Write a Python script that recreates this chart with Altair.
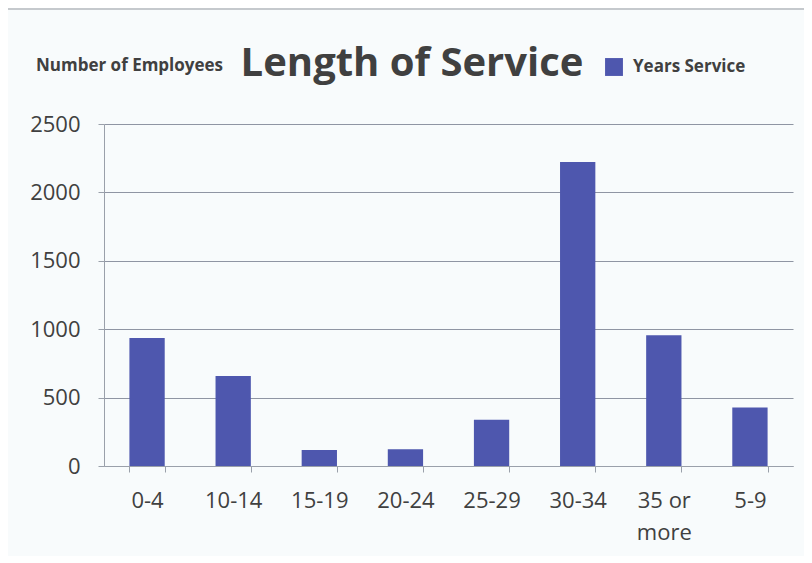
import altair as alt
import pandas as pd

categories = ["0-4", "10-14", "15-19", "20-24", "25-29", "30-34", "35 or more", "5-9"]
employees = [935, 658, 117, 122, 338, 2222, 955, 428]
series_name = "Years Service"
y_ticks = [0, 500, 1000, 1500, 2000, 2500]

df = pd.DataFrame({"category": categories, "employees": employees, "series": series_name})

FONT = "Open Sans"
TXT = "#404040"
BAR = "#4E57AE"

bars = alt.Chart(df).mark_bar(color=BAR).encode(
    x=alt.X("category:N", sort=categories, title=None,
            scale=alt.Scale(paddingInner=0.59, paddingOuter=0.295),
            axis=alt.Axis(labelAngle=0, labelFontSize=22, labelColor=TXT, labelFont=FONT,
                          labelPadding=18, tickBand="extent", tickSize=6, tickColor="#9AA0AA",
                          domainColor="#9AA0AA", labelLineHeight=32,
                          labelExpr="datum.label == '35 or more' ? ['35 or', 'more'] : datum.label")),
    y=alt.Y("employees:Q", title=None,
            scale=alt.Scale(domain=[0, 2500], nice=False),
            axis=alt.Axis(values=y_ticks, format="d", labelFontSize=22, labelColor=TXT, labelFont=FONT,
                          labelPadding=18, tickSize=6, tickColor="#9AA0AA",
                          domainColor="#9AA0AA", gridColor="#8F95A3", gridWidth=1)),
    fill=alt.Fill("series:N", scale=alt.Scale(range=[BAR]),
                  legend=alt.Legend(title=None, orient="none", legendX=501, legendY=-66,
                                    symbolType="square", symbolSize=320, labelFontSize=17,
                                    labelFont=FONT, labelFontWeight="bold", labelColor=TXT,
                                    symbolStrokeWidth=0, labelOffset=10)),
)

title_df = pd.DataFrame({"t": ["Length of Service"]})
title = alt.Chart(title_df).mark_text(fontSize=40, fontWeight="bold", font=FONT, color=TXT,
                                      align="center", baseline="alphabetic").encode(
    text="t:N", x=alt.value(308), y=alt.value(-48))

ylab_df = pd.DataFrame({"t": ["Number of Employees"]})
ylab = alt.Chart(ylab_df).mark_text(fontSize=17, fontWeight="bold", font=FONT, color=TXT,
                                    align="left", baseline="alphabetic").encode(
    text="t:N", x=alt.value(-68), y=alt.value(-53))

frame_left = alt.Chart(title_df).mark_rule(color="#B5B8BE", strokeWidth=1.5).encode(
    x=alt.value(-99), y=alt.value(-96), y2=alt.value(440))
frame_top = alt.Chart(title_df).mark_rule(color="#B5B8BE", strokeWidth=1.5).encode(
    x=alt.value(-99), x2=alt.value(700), y=alt.value(-115))

chart = alt.layer(bars, title, ylab, frame_left, frame_top).properties(
    width=689, height=342,
    autosize=alt.AutoSizeParams(type="none"),
    padding={"left": 96, "top": 116, "right": 11, "bottom": 90},
    background="#F8FBFC",
).configure_view(stroke=None)

chart.save("out.html", embed_options={"renderer": "svg", "actions": False})
